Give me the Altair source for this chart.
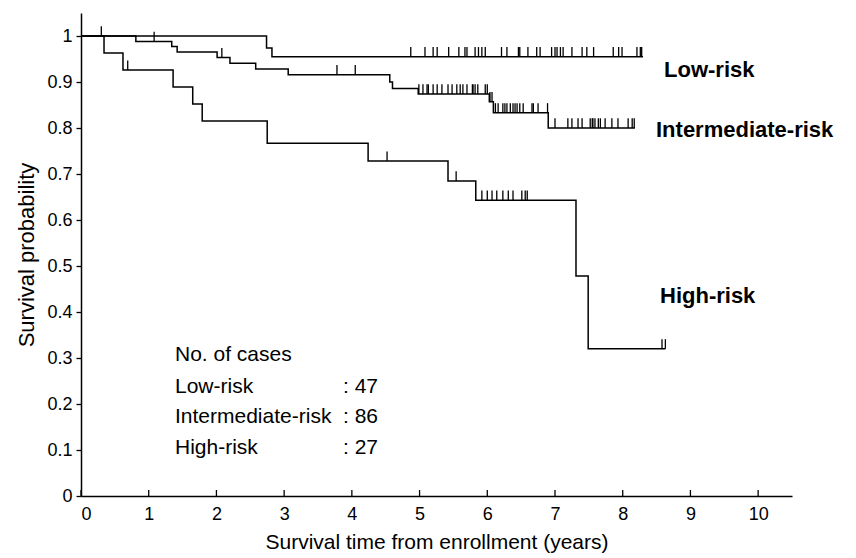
import altair as alt
import pandas as pd

# ---- Kaplan-Meier step data (years, survival probability) ----
low_t = [0, 2.74, 2.82, 8.30]
low_s = [1.0, 0.974, 0.955, 0.955]
low_cens = [0.30, 4.87, 5.08, 5.20, 5.26, 5.43, 5.58, 5.67, 5.70, 5.82, 5.87, 5.92,
            5.97, 6.21, 6.29, 6.46, 6.48, 6.60, 6.73, 6.78, 6.95, 7.00, 7.03, 7.08,
            7.12, 7.25, 7.40, 7.47, 7.57, 7.86, 7.94, 7.99, 8.21, 8.26, 8.28]

mid_t = [0, 0.81, 1.34, 1.42, 2.01, 2.20, 2.58, 3.06, 4.56, 4.60, 4.98, 6.03, 6.09, 6.90, 8.18]
mid_s = [1.0, 0.988, 0.977, 0.965, 0.953, 0.941, 0.928, 0.916, 0.900, 0.886, 0.874,
         0.857, 0.833, 0.800, 0.800]
mid_cens = [1.08, 2.08, 3.78, 4.05, 4.99, 5.05, 5.11, 5.13, 5.20, 5.26, 5.33, 5.42,
            5.48, 5.55, 5.60, 5.64, 5.70, 5.78, 5.79, 5.82, 5.86, 5.97, 6.00, 6.04,
            6.07, 6.12, 6.16, 6.23, 6.26, 6.29, 6.34, 6.38, 6.41, 6.44, 6.48, 6.53,
            6.66, 6.68, 6.75, 6.89, 7.00, 7.19, 7.25, 7.34, 7.40, 7.52, 7.55, 7.56,
            7.59, 7.64, 7.67, 7.74, 7.84, 7.93, 8.08, 8.14, 8.17]

high_t = [0, 0.34, 0.62, 1.36, 1.65, 1.79, 2.75, 4.24, 5.42, 5.83, 7.31, 7.49, 8.63]
high_s = [1.0, 0.963, 0.926, 0.889, 0.852, 0.815, 0.767, 0.728, 0.685, 0.643, 0.478,
          0.320, 0.320]
high_cens = [0.69, 4.52, 5.54, 5.92, 6.00, 6.07, 6.14, 6.23, 6.31, 6.38, 6.51, 6.56,
             6.59, 8.58, 8.63]

groups = ["Low-risk", "Intermediate-risk", "High-risk"]
cases = [47, 86, 27]
x_ticks = list(range(0, 11))
y_ticks = [round(i * 0.1, 1) for i in range(0, 11)]

FONT = "Liberation Sans"
TICK_UP = 0.021


def surv_at(times, survs, t):
    val = survs[0]
    for tt, ss in zip(times, survs):
        if tt <= t:
            val = ss
    return val


step_rows = []
cens_rows = []
for g, ts, ss, cs in [(groups[0], low_t, low_s, low_cens),
                      (groups[1], mid_t, mid_s, mid_cens),
                      (groups[2], high_t, high_s, high_cens)]:
    for t, s in zip(ts, ss):
        step_rows.append({"group": g, "t": t, "s": s})
    for c in cs:
        v = surv_at(ts, ss, c)
        cens_rows.append({"group": g, "t": c, "s": v, "s2": v + TICK_UP})

steps = pd.DataFrame(step_rows)
cens = pd.DataFrame(cens_rows)
xt = pd.DataFrame({"t": x_ticks, "y0": 0.0, "y1": 0.013})

xscale = alt.Scale(domain=[0, 10.5], nice=False, zero=False)
yscale = alt.Scale(domain=[0, 1.05], nice=False)

lines = alt.Chart(steps).mark_line(interpolate="step-after", color="black",
                                   strokeWidth=1.5).encode(
    x=alt.X("t:Q", scale=xscale,
            axis=alt.Axis(values=x_ticks, format="d", ticks=False, grid=False,
                          domainColor="black", domainWidth=1.5, labelFontSize=18,
                          labelFont=FONT, labelColor="black", labelPadding=9,
                          title="Survival time from enrollment (years)",
                          titleFont=FONT, titleFontSize=21, titleFontWeight="normal",
                          titleColor="black", titlePadding=8)),
    y=alt.Y("s:Q", scale=yscale,
            axis=alt.Axis(values=y_ticks, format=".1~f", grid=False, tickSize=5,
                          tickColor="black", tickWidth=1.3, domainColor="black",
                          domainWidth=1.5, labelFontSize=18, labelFont=FONT,
                          labelColor="black", labelPadding=4,
                          title="Survival probability", titleFont=FONT,
                          titleFontSize=22, titleFontWeight="normal",
                          titleColor="black", titlePadding=8)),
    detail="group:N",
)

ticks = alt.Chart(cens).mark_rule(color="black", strokeWidth=1.3).encode(
    x="t:Q", y="s:Q", y2="s2:Q"
)

xticks = alt.Chart(xt).mark_rule(color="black", strokeWidth=1.3).encode(
    x="t:Q", y="y0:Q", y2="y1:Q"
)


def txt(text, x, y, bold=False, size=21):
    return alt.Chart(pd.DataFrame({"label": [text]})).mark_text(
        align="left", baseline="middle", font=FONT, fontSize=size,
        fontWeight="bold" if bold else "normal", color="black"
    ).encode(text="label:N", x=alt.value(x), y=alt.value(y))


texts = [
    txt("No. of cases", 94, 342),
    txt(groups[0], 94, 374), txt(f": {cases[0]}", 262, 374),
    txt(groups[1], 94, 404), txt(f": {cases[1]}", 262, 404),
    txt(groups[2], 94, 435), txt(f": {cases[2]}", 262, 435),
    txt(groups[0], 583, 57, bold=True, size=22),
    txt(groups[1], 575, 117, bold=True, size=22),
    txt(groups[2], 579, 283, bold=True, size=22),
]

chart = alt.layer(lines, ticks, xticks, *texts).properties(
    width=711, height=483,
    autosize=alt.AutoSizeParams(type="none"),
    padding={"left": 81, "top": 13, "right": 64, "bottom": 62},
    background="white",
).configure_view(stroke=None)

chart.save("out.html", embed_options={"renderer": "svg", "actions": False})
